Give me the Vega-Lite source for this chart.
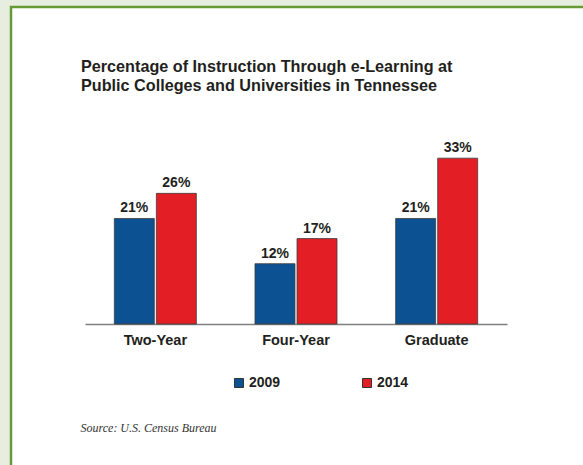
{
  "$schema": "https://vega.github.io/schema/vega-lite/v6.json",
  "width": 600,
  "height": 480,
  "autosize": {"type": "none"},
  "padding": {"left": 11, "top": 7, "right": -28, "bottom": -22},
  "background": "#e7eddf",
  "title": {
    "text": ["Percentage of Instruction Through e-Learning at", "Public Colleges and Universities in Tennessee"],
    "anchor": "start",
    "frame": "group",
    "orient": "top",
    "baseline": "top",
    "offset": 0,
    "dx": 70,
    "dy": 87,
    "font": "Liberation Sans",
    "fontSize": 16.2,
    "fontWeight": "bold",
    "color": "#231f20",
    "lineHeight": 18.5
  },
  "data": {
    "values": [
      {"category": "Two-Year", "year": "2009", "value": 0.21},
      {"category": "Two-Year", "year": "2014", "value": 0.26},
      {"category": "Four-Year", "year": "2009", "value": 0.12},
      {"category": "Four-Year", "year": "2014", "value": 0.17},
      {"category": "Graduate", "year": "2009", "value": 0.21},
      {"category": "Graduate", "year": "2014", "value": 0.33}
    ]
  },
  "encoding": {
    "x": {
      "field": "category",
      "type": "nominal",
      "sort": ["Two-Year", "Four-Year", "Graduate"],
      "scale": {"range": [74, 496], "paddingInner": 0.417, "paddingOuter": 0.2085},
      "axis": {
        "title": "Source: U.S. Census Bureau",
        "offset": -163,
        "domainColor": "#7f7f7f",
        "domainWidth": 1.5,
        "ticks": false,
        "grid": false,
        "labelAngle": 0,
        "labelFont": "Liberation Sans",
        "labelFontSize": 14.5,
        "labelFontWeight": "bold",
        "labelColor": "#231f20",
        "labelPadding": 9,
        "titleFont": "Liberation Serif",
        "titleFontStyle": "italic",
        "titleFontWeight": "normal",
        "titleFontSize": 12,
        "titleColor": "#333333",
        "titleAnchor": "start",
        "titleAlign": "left",
        "titleX": 69,
        "titleY": 107,
        "titleBaseline": "alphabetic"
      }
    },
    "xOffset": {"field": "year", "type": "nominal", "scale": {"paddingInner": 0.049, "paddingOuter": 0}},
    "y": {
      "field": "value",
      "type": "quantitative",
      "scale": {"domain": [0, 0.4], "range": [317, 116], "nice": false, "zero": true},
      "axis": null
    }
  },
  "layer": [
    {
      "mark": {"type": "bar", "stroke": "#3c3c3c", "strokeWidth": 0.8},
      "encoding": {
        "color": {
          "field": "year",
          "type": "nominal",
          "scale": {"domain": ["2009", "2014"], "range": ["#0c5191", "#e31e25"]},
          "legend": {
            "orient": "none",
            "legendX": 221,
            "legendY": 369,
            "direction": "horizontal",
            "title": null,
            "symbolType": "square",
            "symbolSize": 81,
            "symbolStrokeColor": "#333333",
            "symbolStrokeWidth": 1,
            "symbolFillOpacity": 1,
            "labelFont": "Liberation Sans",
            "labelFontSize": 14,
            "labelFontWeight": "bold",
            "labelColor": "#231f20",
            "labelOffset": 3,
            "columnPadding": 79,
            "padding": 0
          }
        }
      }
    },
    {
      "mark": {"type": "text", "dy": -6, "baseline": "alphabetic", "font": "Liberation Sans", "fontSize": 14, "fontWeight": "bold", "color": "#231f20"},
      "encoding": {"text": {"field": "value", "type": "quantitative", "format": ".0%"}}
    }
  ],
  "config": {
    "view": {"fill": "white", "stroke": "#669a35", "strokeWidth": 2.5}
  }
}
